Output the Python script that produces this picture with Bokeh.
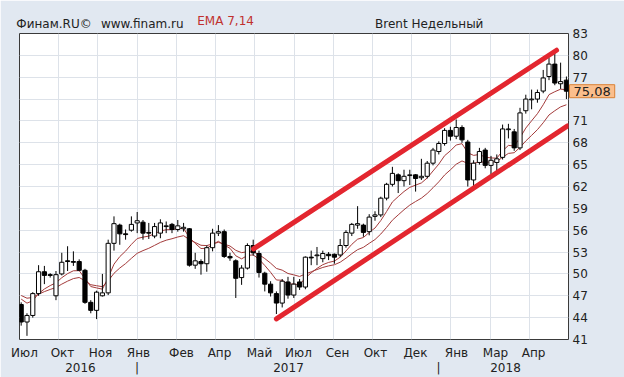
from bokeh.plotting import figure
from bokeh.models import Range1d, FixedTicker, Label, ColumnDataSource, LinearAxis
from bokeh.embed import file_html
from bokeh.resources import INLINE

# ---- data (weekly Brent candles) ----
opens = [45.8, 43.4, 44.3, 47.3, 50.3, 49.9, 47.0, 50.0, 51.8, 51.7,
         51.7, 50.5, 46.1, 45.0, 47.0, 47.4, 54.2, 56.7, 55.5, 56.0,
         57.0, 57.1, 55.7, 55.2, 55.6, 56.5, 56.8, 56.1, 56.2, 56.2,
         51.2, 51.7, 51.4, 53.6, 55.6, 55.8, 52.4, 51.8, 49.5, 50.8,
         53.9, 52.8, 50.1, 48.6, 47.3, 46.0, 48.9, 47.1, 48.9, 48.2,
         52.3, 52.5, 52.1, 52.7, 52.7, 52.6, 53.9, 55.6, 56.7, 56.7,
         55.8, 57.9, 58.1, 60.4, 62.3, 63.6, 62.8, 63.5, 63.6, 63.2,
         63.4, 65.2, 66.8, 67.9, 69.7, 68.9, 70.1, 68.1, 62.9, 65.3,
         67.0, 64.9, 65.3, 66.0, 69.8, 69.5, 67.3, 72.4, 73.9, 74.0,
         75.1, 77.1, 78.8, 76.1, 76.6]
highs = [46.1, 44.6, 47.5, 51.2, 51.1, 50.1, 50.4, 52.9, 53.8, 53.1,
         52.0, 50.7, 46.4, 47.7, 50.0, 54.7, 57.9, 56.9, 56.1, 57.9,
         58.5, 57.4, 57.0, 57.0, 57.5, 57.2, 57.0, 57.4, 57.0, 56.3,
         52.9, 52.0, 53.9, 56.2, 56.7, 56.1, 52.9, 52.0, 51.2, 54.2,
         54.7, 53.2, 50.3, 49.0, 47.6, 49.3, 49.6, 49.6, 49.3, 52.4,
         53.2, 53.7, 53.2, 53.0, 52.8, 54.8, 56.0, 57.0, 59.3, 56.9,
         58.2, 58.6, 60.6, 62.5, 64.7, 63.8, 64.3, 64.3, 63.7, 65.8,
         65.5, 67.3, 68.2, 70.0, 70.2, 71.2, 70.4, 68.4, 65.6, 67.3,
         67.3, 66.2, 66.4, 70.5, 70.6, 69.9, 72.8, 74.6, 75.3, 75.3,
         78.0, 79.7, 80.3, 79.0, 77.1]
lows = [42.9, 41.5, 44.0, 47.0, 48.6, 49.5, 46.4, 49.8, 50.4, 51.1,
        50.4, 45.9, 44.6, 43.8, 46.9, 47.1, 53.2, 54.0, 54.7, 55.8,
        55.6, 54.7, 54.8, 54.9, 54.9, 55.6, 55.6, 55.8, 55.8, 51.0,
        50.7, 49.9, 50.3, 53.1, 55.2, 52.2, 51.8, 46.7, 48.5, 50.6,
        52.5, 49.5, 47.6, 46.9, 44.5, 45.4, 46.6, 46.7, 47.8, 47.9,
        51.2, 51.2, 51.6, 51.9, 51.4, 52.3, 53.6, 55.2, 56.2, 55.1,
        55.3, 57.3, 57.8, 60.1, 62.0, 61.1, 62.0, 62.2, 61.3, 62.9,
        63.1, 64.9, 66.4, 67.6, 68.3, 68.5, 68.0, 62.0, 62.0, 65.0,
        64.5, 63.7, 63.9, 65.7, 68.6, 66.9, 67.0, 72.0, 72.6, 73.5,
        74.8, 76.6, 75.9, 75.4, 74.0]
closes = [43.4, 44.3, 47.3, 50.3, 49.8, 49.8, 49.9, 51.6, 51.7, 51.6,
          50.5, 46.1, 45.0, 47.5, 47.4, 54.2, 56.9, 55.5, 55.4, 56.8,
          57.3, 55.6, 55.6, 56.5, 57.0, 56.6, 56.1, 56.6, 56.4, 51.2,
          51.8, 51.4, 53.6, 55.6, 55.8, 52.4, 52.2, 49.4, 50.8, 53.9,
          52.9, 50.2, 48.6, 47.4, 46.0, 49.0, 47.1, 48.6, 48.2, 52.3,
          52.2, 52.6, 52.8, 52.5, 52.3, 53.9, 55.7, 56.8, 56.9, 55.7,
          57.8, 58.1, 60.4, 62.3, 63.8, 62.8, 63.4, 63.6, 63.1, 63.4,
          65.2, 67.0, 67.9, 69.7, 68.9, 70.1, 68.4, 62.9, 65.2, 66.8,
          64.9, 65.6, 65.8, 69.9, 69.9, 67.3, 72.1, 74.0, 74.0, 74.9,
          76.9, 78.8, 76.2, 76.4, 75.08]
ema7 = [46.55, 45.99, 46.32, 47.31, 47.93, 48.40, 48.78, 49.48, 50.04, 50.43,
        50.45, 49.36, 48.27, 48.08, 47.91, 49.48, 51.34, 52.38, 53.13, 54.05,
        54.86, 55.05, 55.19, 55.52, 55.89, 56.07, 56.08, 56.21, 56.26, 54.99,
        54.19, 53.49, 53.52, 54.04, 54.48, 53.96, 53.52, 52.49, 52.07, 52.53,
        52.62, 52.02, 51.16, 50.22, 49.17, 49.13, 48.62, 48.62, 48.51, 49.46,
        50.15, 50.76, 51.27, 51.58, 51.76, 52.30, 53.15, 54.06, 54.77, 55.00,
        55.70, 56.30, 57.33, 58.57, 59.88, 60.61, 61.31, 61.88, 62.19, 62.49,
        63.17, 64.13, 65.07, 66.23, 66.90, 67.70, 67.88, 66.63, 66.27, 66.40,
        66.03, 65.92, 65.89, 66.89, 67.64, 67.56, 68.69, 70.02, 71.02, 71.99,
        73.22, 74.61, 75.01, 75.36, 75.29]
ema14 = [47.04, 46.67, 46.76, 47.23, 47.57, 47.87, 48.14, 48.60, 49.01, 49.36,
         49.51, 49.06, 48.52, 48.38, 48.25, 49.04, 50.09, 50.81, 51.42, 52.14,
         52.83, 53.20, 53.52, 53.92, 54.33, 54.63, 54.83, 55.07, 55.25, 54.71,
         54.32, 53.93, 53.89, 54.12, 54.34, 54.08, 53.83, 53.24, 52.92, 53.05,
         53.03, 52.65, 52.11, 51.48, 50.75, 50.52, 50.06, 49.87, 49.65, 50.00,
         50.29, 50.60, 50.89, 51.10, 51.26, 51.61, 52.16, 52.78, 53.33, 53.65,
         54.20, 54.72, 55.48, 56.39, 57.38, 58.10, 58.81, 59.45, 59.94, 60.40,
         61.04, 61.83, 62.64, 63.58, 64.29, 65.06, 65.51, 65.16, 65.17, 65.39,
         65.32, 65.36, 65.42, 66.02, 66.54, 66.64, 67.37, 68.25, 69.02, 69.80,
         70.75, 71.82, 72.40, 72.93, 73.22]

# trend channel (candle index, price)
upper_x = [40.05, 92.3]
upper_y = [53.43, 80.70]
lower_x = [44.0, 94.2]
lower_y = [43.84, 70.31]

month_labels = ["Июл", "Окт", "Ноя", "Янв", "Фев", "Апр", "Май",
                "Июл", "Сен", "Окт", "Дек", "Янв", "Мар", "Апр"]
year_labels = ["2016", "|", "2017", "|", "2018"]
price_grid = [41, 44, 47, 50, 53, 56, 59, 62, 65, 68, 71, 74, 77, 80, 83]
price_labels = [41, 44, 47, 50, 53, 56, 59, 62, 65, 68, 71, 77, 80, 83]  # 74 hidden by marker
header_dark = ["Финам.RU©", "www.finam.ru", "Brent Недельный"]
header_red = ["EMA 7,14"]
last_label = "75,08"

# ---- positions (layout) ----
month_pos = [0.57, 7.12, 13.67, 20.22, 27.64, 34.19, 41.09,
             47.81, 54.53, 61.09, 67.98, 75.05, 81.78, 88.33]
year_pos = [10.22, 19.97, 46.09, 71.95, 83.5]
header_dark_pos = [5.66, 20.87, 70.35]
header_red_pos = [35.24]

X0, X1 = -0.29, 94.36
grid_x = [X0 + k * (X1 - X0) / 14 for k in range(1, 14)]

FONT = "DejaVu Sans"
TXT = "#222222"

idx = list(range(len(closes)))
body_top = [max(o, c) for o, c in zip(opens, closes)]
body_bot = [min(o, c) for o, c in zip(opens, closes)]
fills = ["white" if c >= o else "black" for o, c in zip(opens, closes)]
src = ColumnDataSource(dict(x=idx, top=body_top, bottom=body_bot, high=highs,
                            low=lows, fill=fills))

p = figure(width=624, height=377, x_range=Range1d(X0, X1), y_range=Range1d(41, 83),
           output_backend="svg", toolbar_location=None, y_axis_location="right",
           min_border_left=19, min_border_right=56, min_border_top=33,
           min_border_bottom=33)
p.background_fill_color = "white"
p.border_fill_color = "#e1e8f1"
p.outline_line_color = "#3a3a3a"
p.outline_line_width = 1


def plain_axis(ax, size="12px", color=TXT):
    ax.axis_line_color = None
    ax.major_tick_line_color = None
    ax.minor_tick_line_color = None
    ax.major_tick_out = 0
    ax.major_tick_in = 0
    ax.minor_tick_out = 0
    ax.minor_tick_in = 0
    ax.major_label_text_font = FONT
    ax.major_label_text_font_size = size
    ax.major_label_text_color = color


# right price axis
p.yaxis.ticker = FixedTicker(ticks=price_labels)
plain_axis(p.yaxis[0])
p.yaxis.major_label_standoff = 4

# bottom month axis
p.xaxis.ticker = FixedTicker(ticks=month_pos)
p.xaxis.major_label_overrides = {pos: lab for pos, lab in zip(month_pos, month_labels)}
plain_axis(p.xaxis[0])
p.xaxis.major_label_standoff = 6

# bottom year axis
year_axis = LinearAxis(ticker=FixedTicker(ticks=year_pos),
                       major_label_overrides={pos: lab for pos, lab in zip(year_pos, year_labels)})
plain_axis(year_axis)
year_axis.major_label_standoff = -2
p.add_layout(year_axis, "below")

# last price marker (above panel, placed by data position)
p.add_layout(Label(x=X1, y=closes[-1], x_units="data", y_units="data", x_offset=1,
                   text=last_label, text_font=FONT, text_font_size="13px",
                   text_color=TXT, text_baseline="middle", text_align="left",
                   background_fill_color="#fbbe8c", border_line_color="#d98236",
                   padding=dict(left=4, right=4, top=2, bottom=2)), "above")

# header (above axes)
head_axis = LinearAxis(ticker=FixedTicker(ticks=header_dark_pos),
                       major_label_overrides={pos: lab for pos, lab in zip(header_dark_pos, header_dark)})
plain_axis(head_axis, size="12px")
head_axis.major_label_standoff = -10
p.add_layout(head_axis, "above")

ema_axis = LinearAxis(ticker=FixedTicker(ticks=header_red_pos),
                      major_label_overrides={pos: lab for pos, lab in zip(header_red_pos, header_red)})
plain_axis(ema_axis, size="12px", color="#c0302f")
ema_axis.major_label_standoff = -14
p.add_layout(ema_axis, "above")

p.xgrid.ticker = FixedTicker(ticks=grid_x)
p.ygrid.ticker = FixedTicker(ticks=price_grid)
p.grid.grid_line_color = "#dde2e9"
p.grid.grid_line_width = 1

# EMA lines
p.line(idx, ema14, line_color="#a33b3b", line_width=1)
p.line(idx, ema7, line_color="#a33b3b", line_width=1)

# candles
p.segment(x0="x", y0="high", x1="x", y1="low", source=src, line_color="black", line_width=1)
p.vbar(x="x", width=0.72, top="top", bottom="bottom", source=src,
       fill_color="fill", line_color="black", line_width=1)

# trend channel
p.line(upper_x, upper_y, line_color="#e3262f", line_width=5, line_cap="round")
p.line(lower_x, lower_y, line_color="#e3262f", line_width=5, line_cap="round")

open("out.html", "w").write(file_html(p, INLINE))
